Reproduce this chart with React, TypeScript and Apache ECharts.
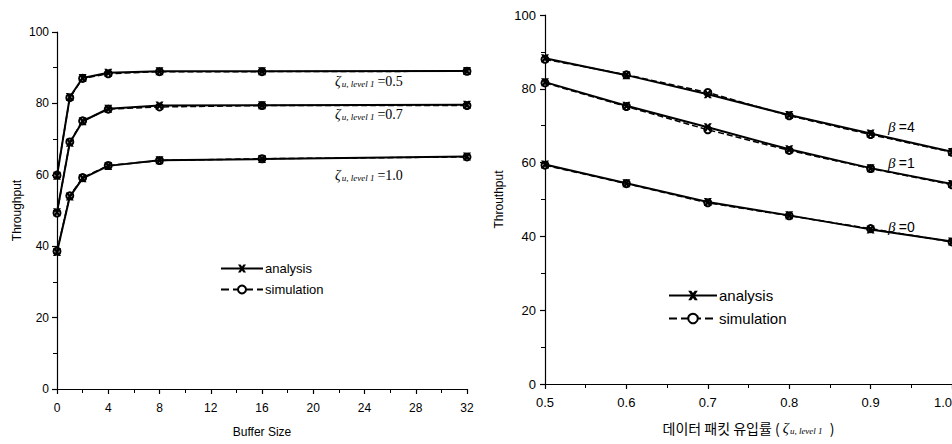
import React, { useEffect, useRef } from "react";
import * as echarts from "echarts";

// Left chart: throughput vs buffer size
const bufferSizes = [0, 1, 2, 4, 8, 16, 32];
const anaZ05 = [59.7, 81.8, 87.1, 88.6, 89.0, 89.0, 89.1];
const simZ05 = [59.9, 81.6, 87.0, 88.3, 88.9, 88.9, 89.0];
const anaZ07 = [49.5, 69.0, 75.0, 78.5, 79.4, 79.5, 79.6];
const simZ07 = [49.3, 69.2, 75.1, 78.4, 79.0, 79.4, 79.4];
const anaZ10 = [38.4, 53.9, 59.0, 62.5, 64.1, 64.4, 65.1];
const simZ10 = [38.6, 54.1, 59.2, 62.6, 64.0, 64.5, 65.0];

// Right chart: throughput vs data packet arrival rate
const loadRates = [0.5, 0.6, 0.7, 0.8, 0.9, 1.0];
const anaB4 = [88.3, 83.7, 78.5, 72.9, 67.9, 62.9];
const simB4 = [88.0, 83.8, 79.0, 72.7, 67.6, 62.8];
const anaB1 = [81.8, 75.4, 69.6, 63.6, 58.5, 54.2];
const simB1 = [81.6, 75.2, 68.9, 63.3, 58.4, 54.0];
const anaB0 = [59.5, 54.4, 49.3, 45.7, 41.9, 38.6];
const simB0 = [59.3, 54.3, 49.1, 45.6, 42.1, 38.5];

const legendNames = ["analysis", "simulation"];

const SANS = "Liberation Sans, Arial, sans-serif";
const SERIF = "Liberation Serif, Times New Roman, serif";
const xMark =
  "path://M0,0L3.2,0L5,2.4L6.8,0L10,0L6.8,5L10,10L6.8,10L5,7.6L3.2,10L0,10L3.2,5Z";

function ana(xs: number[], ys: number[], gi: number) {
  return {
    type: "line",
    name: "analysis",
    xAxisIndex: gi,
    yAxisIndex: gi,
    data: xs.map((x, i) => [x, ys[i]]),
    symbol: xMark,
    symbolSize: 8,
    lineStyle: { color: "#000", width: 2 },
    itemStyle: { color: "#000" },
    z: 3,
  };
}
function sim(xs: number[], ys: number[], gi: number) {
  return {
    type: "line",
    name: "simulation",
    xAxisIndex: gi,
    yAxisIndex: gi,
    data: xs.map((x, i) => [x, ys[i]]),
    symbol: "emptyCircle",
    symbolSize: 7,
    lineStyle: { color: "#000", width: 1.5, type: "dashed" },
    itemStyle: { color: "#000", borderColor: "#000", borderWidth: 1.5 },
    z: 2,
  };
}

function axisStyle() {
  return {
    axisLine: { show: true, onZero: false, lineStyle: { color: "#000", width: 1.2 } },
    axisTick: { show: true, length: 5, lineStyle: { color: "#000", width: 1.2 } },
    minorTick: { show: true, splitNumber: 2, length: 4, lineStyle: { color: "#000", width: 1 } },
    splitLine: { show: false },
    minorSplitLine: { show: false },
  };
}

export default function App() {
  const ref = useRef<HTMLDivElement>(null);
  useEffect(() => {
    if (!ref.current) return;
    const chart = echarts.init(ref.current, undefined, { renderer: "svg" });
    const zetaRich = {
      z: { fontFamily: SERIF, fontSize: 14, fontStyle: "italic", fill: "#000" },
      s: { fontFamily: SERIF, fontSize: 9, fontStyle: "italic", fill: "#000", padding: [6, 3, 0, 1] },
      v: { fontFamily: SERIF, fontSize: 14, fill: "#000" },
    };
    const betaRich = {
      b: { fontFamily: SERIF, fontSize: 15, fontStyle: "italic", fill: "#000" },
      v: { fontFamily: SANS, fontSize: 14, fill: "#000" },
    };
    chart.setOption({
      animation: false,
      backgroundColor: "#fff",
      grid: [
        { left: 57, top: 32, width: 410, height: 357, outerBoundsMode: "none", containLabel: false },
        { left: 545, top: 15, width: 407, height: 369, outerBoundsMode: "none", containLabel: false },
      ],
      xAxis: [
        {
          type: "value",
          gridIndex: 0,
          min: 0,
          max: 32,
          interval: 4,
          ...axisStyle(),
          axisLabel: { color: "#000", fontSize: 12, fontFamily: SANS, margin: 13 },
          name: "Buffer Size",
          nameLocation: "middle",
          nameGap: 37,
          nameTextStyle: { color: "#000", fontSize: 12, fontFamily: SANS },
        },
        {
          type: "value",
          gridIndex: 1,
          min: 0.5,
          max: 1.0,
          interval: 0.1,
          ...axisStyle(),
          axisLabel: {
            color: "#000",
            fontSize: 13,
            fontFamily: SANS,
            margin: 12,
            alignMaxLabel: "right",
            formatter: (v: number) => v.toFixed(1),
          },
          name: "데이터 패킷 유입률 ( {z|ζ}{s|u, level 1} )",
          nameLocation: "middle",
          nameGap: 36,
          nameTextStyle: {
            color: "#000",
            fontSize: 14,
            fontFamily: "Noto Sans CJK KR, sans-serif",
            rich: {
              z: { fontFamily: SERIF, fontSize: 15, fontStyle: "italic", color: "#000" },
              s: { fontFamily: SERIF, fontSize: 9, fontStyle: "italic", color: "#000", padding: [6, 4, 0, 1] },
            },
          },
        },
      ],
      yAxis: [
        {
          type: "value",
          gridIndex: 0,
          min: 0,
          max: 100,
          interval: 20,
          ...axisStyle(),
          axisLabel: { color: "#000", fontSize: 12, fontFamily: SANS, margin: 8 },
          name: "Throughput",
          nameLocation: "middle",
          nameGap: 34,
          nameTextStyle: { color: "#000", fontSize: 12, fontFamily: SANS },
        },
        {
          type: "value",
          gridIndex: 1,
          min: 0,
          max: 100,
          interval: 20,
          ...axisStyle(),
          axisLabel: { color: "#000", fontSize: 13, fontFamily: SANS, margin: 9 },
          name: "Throuthput",
          nameLocation: "middle",
          nameGap: 40,
          nameTextStyle: { color: "#000", fontSize: 12, fontFamily: SANS },
        },
      ],
      legend: [
        {
          data: legendNames,
          orient: "vertical",
          left: 215,
          top: 257,
          itemWidth: 42,
          itemHeight: 10,
          itemGap: 8,
          textStyle: { color: "#000", fontSize: 13, fontFamily: SANS, padding: [0, 0, 0, -3] },
          selectedMode: false,
        },
        {
          data: legendNames,
          orient: "vertical",
          left: 663,
          top: 283,
          itemWidth: 48,
          itemHeight: 12,
          itemGap: 8,
          textStyle: { color: "#000", fontSize: 15, fontFamily: SANS, padding: [0, 0, 0, -3] },
          selectedMode: false,
        },
      ],
      graphic: [
        { type: "text", left: 335, top: 74, style: { text: "{z|ζ}{s|u, level 1}{v|=0.5}", rich: zetaRich, fill: "#000" } },
        { type: "text", left: 335, top: 107, style: { text: "{z|ζ}{s|u, level 1}{v|=0.7}", rich: zetaRich, fill: "#000" } },
        { type: "text", left: 335, top: 168, style: { text: "{z|ζ}{s|u, level 1}{v|=1.0}", rich: zetaRich, fill: "#000" } },
        { type: "text", left: 888, top: 119, style: { text: "{b|β} {v|=4}", rich: betaRich, fill: "#000" } },
        { type: "text", left: 888, top: 155, style: { text: "{b|β} {v|=1}", rich: betaRich, fill: "#000" } },
        { type: "text", left: 888, top: 219, style: { text: "{b|β} {v|=0}", rich: betaRich, fill: "#000" } },
      ],
      series: [
        ana(bufferSizes, anaZ05, 0),
        sim(bufferSizes, simZ05, 0),
        ana(bufferSizes, anaZ07, 0),
        sim(bufferSizes, simZ07, 0),
        ana(bufferSizes, anaZ10, 0),
        sim(bufferSizes, simZ10, 0),
        ana(loadRates, anaB4, 1),
        sim(loadRates, simB4, 1),
        ana(loadRates, anaB1, 1),
        sim(loadRates, simB1, 1),
        ana(loadRates, anaB0, 1),
        sim(loadRates, simB0, 1),
      ],
    });
    return () => chart.dispose();
  }, []);
  return (
    <div
      ref={ref}
      style={{ position: "absolute", left: 0, top: 0, width: 952, height: 444, background: "#fff" }}
    />
  );
}
